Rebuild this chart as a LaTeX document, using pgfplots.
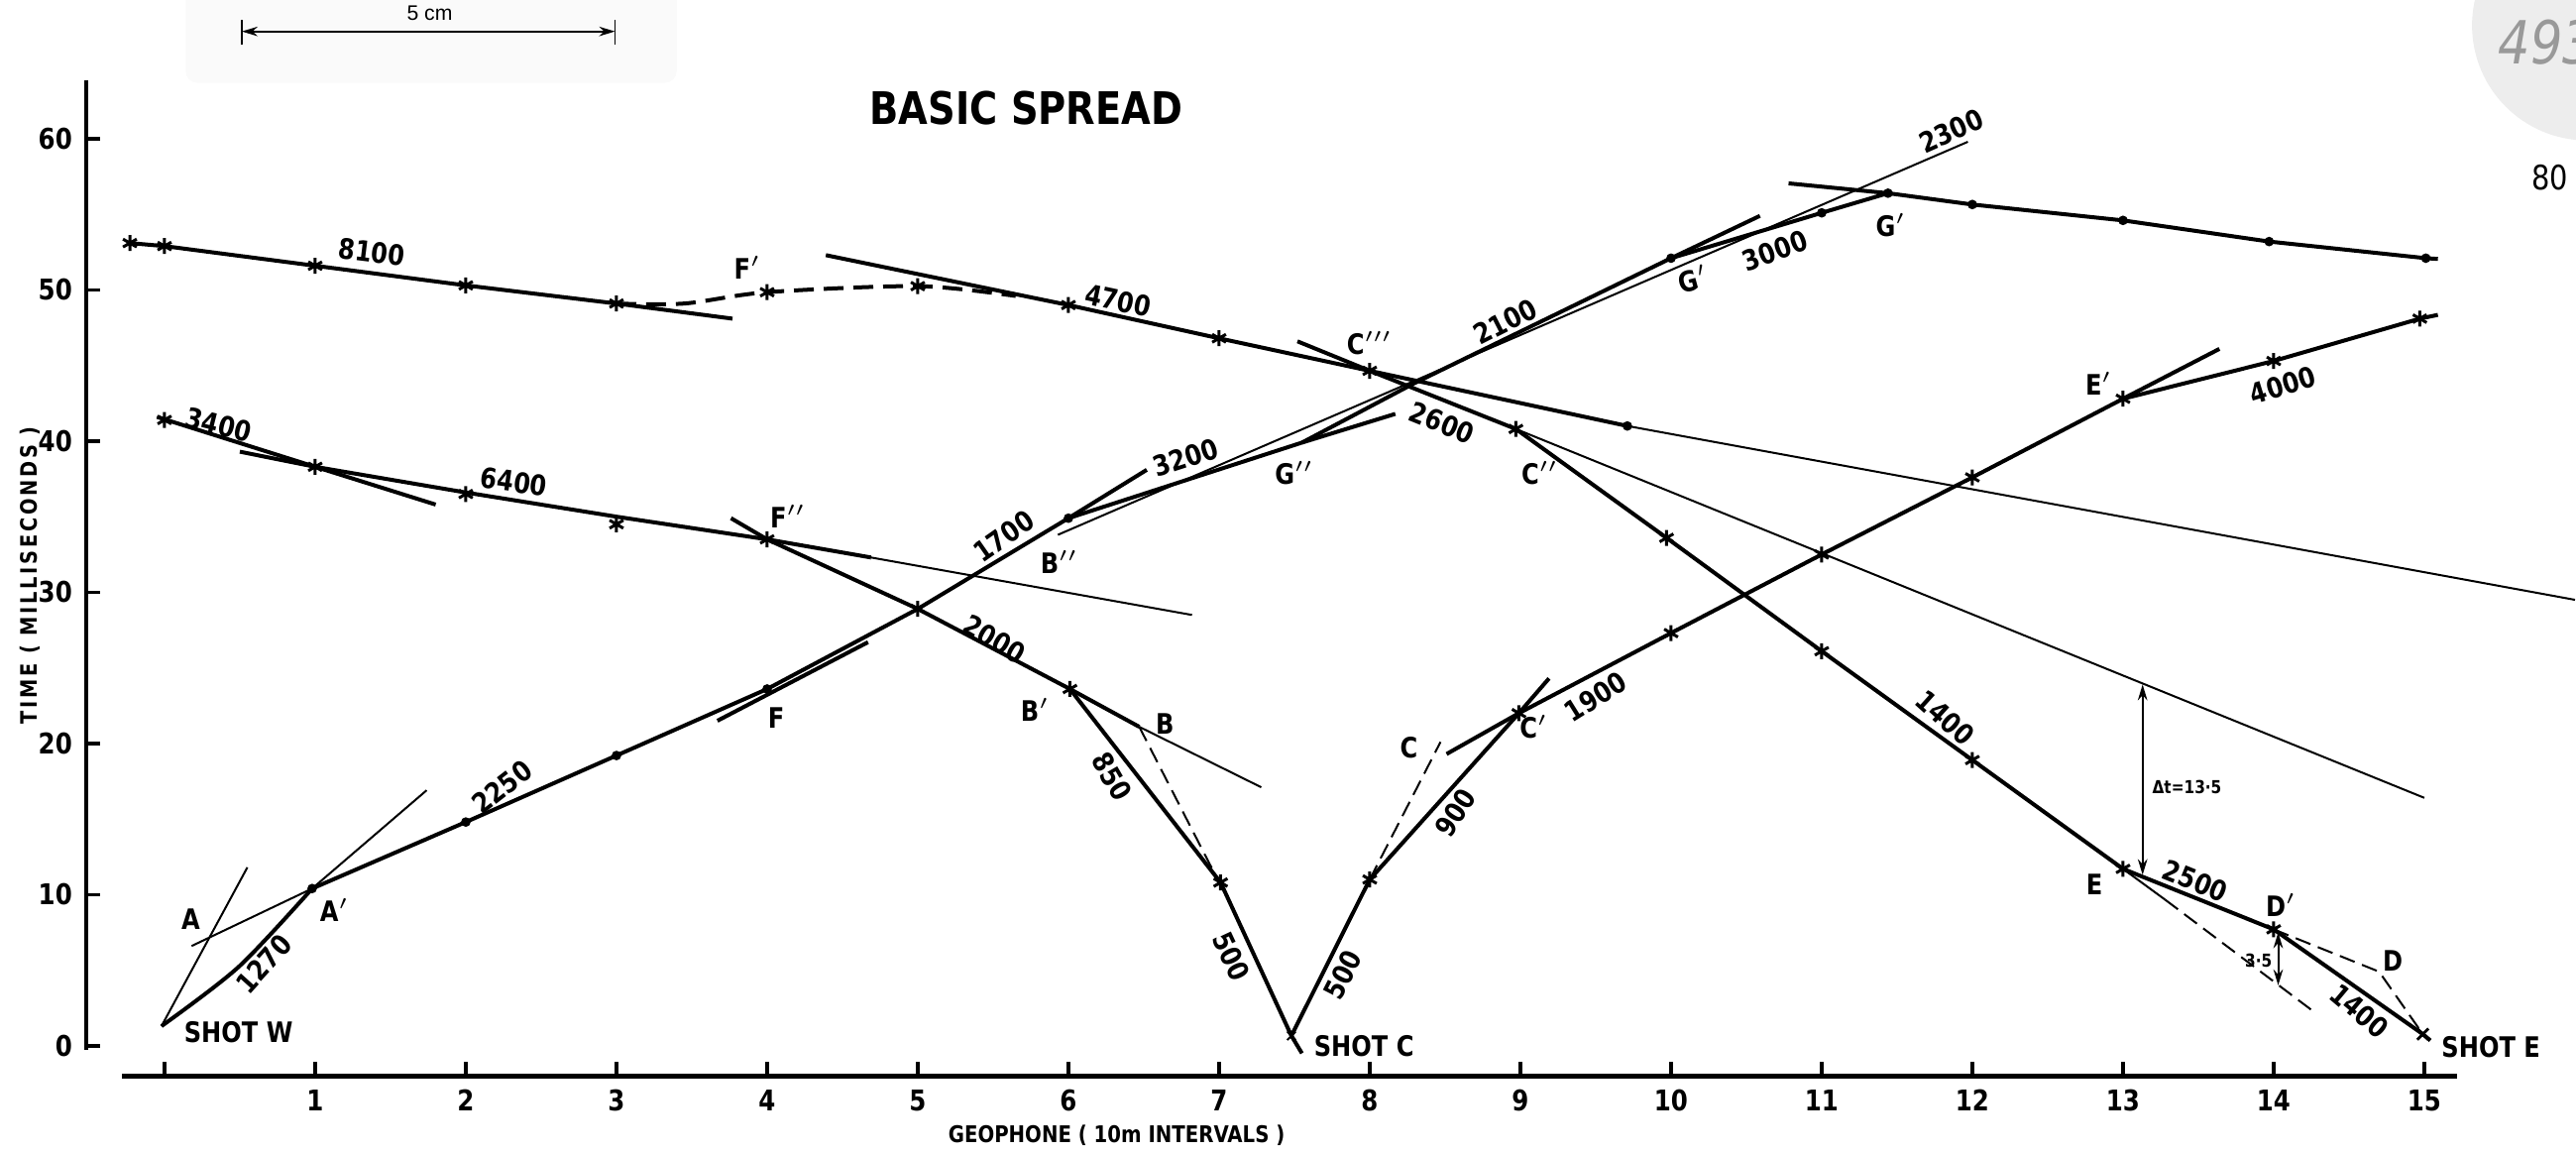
\documentclass[border=0pt]{standalone}
\usepackage{fontspec}
\setmainfont{DejaVu Sans}[FakeStretch=0.85]
\newfontfamily\arialf{Liberation Sans}
\usepackage{pgfplots}
\pgfplotsset{compat=1.18}
\usetikzlibrary{arrows.meta}

\begin{document}
\begin{tikzpicture}[
  lbl/.style={font=\bfseries\fontsize{7.1}{8}\selectfont, inner sep=0pt},
  tiny/.style={font=\bfseries\fontsize{4.5}{5}\selectfont, inner sep=0pt},
  thk/.style={black, line width=1pt, no markers},
  thn/.style={black, line width=0.5pt, no markers},
  ast/.style={only marks, mark=asterisk, mark size=2pt, mark options={line width=0.75pt, black}},
  dot/.style={only marks, mark=*, mark size=1pt, black},
  dbl/.style={{Stealth[length=4pt,width=2.4pt]}-{Stealth[length=4pt,width=2.4pt]}},
]
\begin{axis}[
  scale only axis, width=598.1pt, height=251.2pt,
  xmin=-0.52, xmax=15.22, ymin=-2, ymax=63.9,
  axis lines=left, axis line style={draw=none},
  xtick={0,...,15},
  xticklabels={,1,2,3,4,5,6,7,8,9,10,11,12,13,14,15},
  ytick={0,10,20,30,40,50,60},
  tick align=inside, major tick length=3.5pt,
  every tick/.style={black, line width=0.9pt},
  tick label style={font=\bfseries\fontsize{7.2}{8}\selectfont},
  /pgf/number format/assume math mode=true,
  clip=false,
]
% scan decorations
\fill[black!2, rounded corners=3pt] (axis cs:0.14,63.7) rectangle (axis cs:3.40,70);
\fill[black!7] (axis cs:16.08,67.5) circle[radius=29pt];

% axis lines
\addplot[black, line width=1.3pt] coordinates {(-0.28,-2) (15.22,-2)};
\addplot[black, line width=1.05pt] coordinates {(-0.52,-0.3) (-0.52,63.9)};

% scale bar
\addplot[black, line width=0.4pt, dbl] coordinates {(0.513,67.1) (2.99,67.1)};
\addplot[black, line width=0.4pt] coordinates {(0.513,66.2) (0.513,67.9)};
\addplot[black, line width=0.4pt] coordinates {(2.99,66.2) (2.99,67.9)};
\node[font=\arialf\fontsize{5.3}{6}\selectfont] at (axis cs:1.76,68.3) {5 cm};

% 8100
\addplot[thk] coordinates {(-0.23,53.1) (0,52.9) (1,51.6) (2,50.3) (3,49.1) (3.77,48.1)};
\addplot[ast] coordinates {(-0.23,53.1) (0,52.9) (1,51.6) (2,50.3) (3,49.1)};
% F' dashed
\addplot[thk, dash pattern=on 5pt off 2.5pt, smooth] coordinates {(3,49.1) (3.45,49.1) (4,49.85) (5,50.25) (5.65,49.6)};
\addplot[ast] coordinates {(4,49.85) (5,50.25)};
% 4700
\addplot[thk] coordinates {(4.39,52.3) (6,49.0) (7,46.8) (8,44.65) (9.71,41.0)};
\addplot[thn] coordinates {(9.71,41.0) (16.0,29.5)};
\addplot[ast] coordinates {(6,49.0) (7,46.8) (8,44.65)};
\addplot[dot] coordinates {(9.71,41.0)};
% 2600
\addplot[thk] coordinates {(7.52,46.6) (8,44.65) (8.97,40.8)};
\addplot[thn] coordinates {(8.97,40.8) (15.0,16.4)};
% 1400 upper
\addplot[thk] coordinates {(8.97,40.8) (9.97,33.6) (11,26.1) (12,18.9) (13,11.7)};
\addplot[ast] coordinates {(8.97,40.8) (9.97,33.6) (11,26.1) (12,18.9) (13,11.7)};
\addplot[thn] coordinates {(13,11.7) (13.28,9.66)};
\addplot[thn, dash pattern=on 4pt off 2pt] coordinates {(13.28,9.66) (14.26,2.3)};
% 2500 / 1400 lower
\addplot[thk] coordinates {(13,11.7) (14,7.7) (14.99,0.77) (15.04,0.35)};
\addplot[ast] coordinates {(14,7.7)};
\addplot[only marks, mark=x, mark size=2pt, mark options={line width=0.7pt, black}] coordinates {(14.99,0.77)};
\addplot[thn, dash pattern=on 4pt off 2pt] coordinates {(14,7.7) (14.7,4.9) (14.99,0.77)};
% arrows
\addplot[thn, dbl] coordinates {(13.13,11.3) (13.13,23.9)};
\addplot[thn, dbl] coordinates {(14.03,7.5) (14.03,4.0)};
% 1900 / 4000
\addplot[thk] coordinates {(8.51,19.3) (8.99,22.0) (10,27.3) (11,32.5) (12,37.6) (13,42.8) (13.64,46.1)};
\addplot[thk] coordinates {(13,42.8) (14,45.3) (14.97,48.1) (15.09,48.35)};
\addplot[ast] coordinates {(8,11.0) (8.99,22.0) (10,27.3) (11,32.5) (12,37.6) (13,42.8) (14,45.3) (14.97,48.1)};
% 500 / 900 right of shot C
\addplot[thk] coordinates {(7.48,0.66) (8,11.0) (8.99,22.0) (9.19,24.3)};
\addplot[thn, dash pattern=on 4pt off 2pt] coordinates {(8,11.0) (8.47,20.1)};
% 850 / 500 left of shot C
\addplot[thk] coordinates {(6.01,23.6) (7.01,10.8) (7.48,0.66) (7.55,-0.5)};
\addplot[thn, dash pattern=on 4pt off 2pt] coordinates {(6.47,21.1) (6.98,11.2)};
\addplot[ast] coordinates {(7.01,10.8)};
\addplot[only marks, mark=x, mark size=1.5pt, mark options={line width=0.5pt, black}] coordinates {(7.48,0.66)};
% 2000
\addplot[thk] coordinates {(3.76,34.9) (4,33.5) (5,28.9) (6.01,23.6) (6.47,21.1)};
\addplot[thn] coordinates {(6.47,21.1) (7.28,17.1)};
\addplot[ast] coordinates {(5,28.9) (6.01,23.6)};
% 3400 / 6400
\addplot[thk] coordinates {(-0.05,41.6) (1,38.3) (1.8,35.8)};
\addplot[thk] coordinates {(0.5,39.3) (1,38.3) (2,36.6) (3,35.0) (4,33.5) (4.69,32.3)};
\addplot[thn] coordinates {(4.69,32.3) (6.82,28.5)};
\addplot[ast] coordinates {(0,41.4) (1,38.3) (2,36.5) (3,34.5) (4,33.5)};
% 1270 / 2250 / 1700
\addplot[thk, smooth] coordinates {(-0.02,1.3) (0.49,5.2) (0.98,10.4)};
\addplot[thn] coordinates {(0.98,10.4) (1.74,16.9)};
\addplot[thn] coordinates {(-0.02,1.3) (0.55,11.8)};
\addplot[thn] coordinates {(0.18,6.6) (0.98,10.4)};
\addplot[thk] coordinates {(0.98,10.4) (2,14.8) (3,19.2) (4,23.6)};
\addplot[thk] coordinates {(3.67,21.5) (4.67,26.7)};
\addplot[thk] coordinates {(4,23.6) (5,28.9) (6,34.9) (6.52,38.1)};
\addplot[dot] coordinates {(0.98,10.4) (2,14.8) (3,19.2) (4,23.6) (6,34.9)};
% 3200 / 2100 / 3000 / 2300
\addplot[thk] coordinates {(6,34.9) (7.55,39.9) (8.17,41.8)};
\addplot[thk] coordinates {(7.55,39.9) (8.29,43.8) (10,52.1) (10.59,54.9)};
\addplot[thk] coordinates {(10,52.1) (11,55.1) (11.44,56.4)};
\addplot[thn] coordinates {(5.93,33.8) (11.97,59.8)};
\addplot[dot] coordinates {(10,52.1) (11,55.1)};
% top right
\addplot[thk] coordinates {(10.78,57.05) (11.44,56.4) (12,55.65) (13,54.6) (13.97,53.2) (15.01,52.1) (15.09,52.05)};
\addplot[dot] coordinates {(11.44,56.4) (12,55.65) (13,54.6) (13.97,53.2) (15.01,52.1)};

% labels
\node[lbl, rotate=-7] at (axis cs:1.375,52.5) {8100};
\node[lbl] at (axis cs:3.87,51.5) {F$'$};
\node[lbl, rotate=-12] at (axis cs:6.33,49.3) {4700};
\node[lbl] at (axis cs:8.0,46.45) {C$'''$};
\node[lbl, rotate=27] at (axis cs:8.9,47.9) {2100};
\node[lbl, rotate=24] at (axis cs:11.86,60.5) {2300};
\node[lbl, rotate=20] at (axis cs:10.69,52.6) {3000};
\node[lbl, rotate=15] at (axis cs:10.15,50.7) {G$'$};
\node[lbl] at (axis cs:11.46,54.3) {G$'$};
\node[lbl] at (axis cs:12.84,43.8) {E$'$};
\node[lbl, rotate=17] at (axis cs:14.06,43.7) {4000};
\node[lbl, rotate=-22] at (axis cs:8.48,41.2) {2600};
\node[lbl] at (axis cs:9.13,37.9) {C$''$};
\node[lbl] at (axis cs:7.5,37.9) {G$''$};
\node[lbl, rotate=18] at (axis cs:6.78,38.9) {3200};
\node[lbl] at (axis cs:5.94,32.0) {B$''$};
\node[lbl, rotate=35] at (axis cs:5.57,33.7) {1700};
\node[lbl, rotate=-14] at (axis cs:0.36,41.1) {3400};
\node[lbl, rotate=-8] at (axis cs:2.32,37.3) {6400};
\node[lbl] at (axis cs:4.14,35.0) {F$''$};
\node[lbl, rotate=-30] at (axis cs:5.51,26.9) {2000};
\node[lbl] at (axis cs:5.78,22.2) {B$'$};
\node[lbl] at (axis cs:6.64,21.3) {B};
\node[lbl, rotate=-60] at (axis cs:6.29,17.8) {850};
\node[lbl, rotate=-65] at (axis cs:7.08,5.9) {500};
\node[lbl, rotate=63] at (axis cs:7.82,4.7) {500};
\node[lbl, rotate=57] at (axis cs:8.57,15.4) {900};
\node[lbl] at (axis cs:8.26,19.7) {C};
\node[lbl] at (axis cs:9.09,21.1) {C$'$};
\node[lbl, rotate=32] at (axis cs:9.5,23.1) {1900};
\node[lbl, rotate=-42] at (axis cs:11.82,21.7) {1400};
\node[lbl] at (axis cs:12.81,10.7) {E};
\node[lbl, rotate=-22] at (axis cs:13.48,10.9) {2500};
\node[lbl] at (axis cs:14.05,9.3) {D$'$};
\node[lbl] at (axis cs:14.79,5.6) {D};
\node[lbl, rotate=-40] at (axis cs:14.57,2.3) {1400};
\node[tiny] at (axis cs:13.9,5.6) {3·5};
\node[tiny, anchor=west] at (axis cs:13.19,17.1) {Δt=13·5};
\node[lbl] at (axis cs:0.175,8.4) {A};
\node[lbl] at (axis cs:1.13,9.0) {A$'$};
\node[lbl, rotate=48] at (axis cs:0.66,5.4) {1270};
\node[lbl, rotate=38] at (axis cs:2.24,17.1) {2250};
\node[lbl] at (axis cs:4.06,21.7) {F};
\node[lbl, anchor=west] at (axis cs:0.125,0.9) {SHOT W};
\node[lbl, anchor=west] at (axis cs:7.625,-0.05) {SHOT C};
\node[lbl, anchor=west] at (axis cs:15.11,-0.1) {SHOT E};

% titles
\node[font=\bfseries\fontsize{11.3}{12}\selectfont] at (axis cs:5.72,62.0) {BASIC SPREAD};
\node[font=\bfseries\fontsize{5.8}{6}\selectfont] at (axis cs:6.32,-5.9) {GEOPHONE ( 10m INTERVALS )};
\node[rotate=90, font=\bfseries\fontsize{5.7}{6}\selectfont\addfontfeature{LetterSpace=12}] at (axis cs:-0.895,31.1) {TIME ( MILLISECONDS )};

% margin notes
\node[anchor=west, text=black!40, font=\itshape\fontsize{15}{16}\selectfont] at (axis cs:15.40,66.4) {4939};
\node[anchor=west, font=\fontsize{8.5}{9}\selectfont] at (axis cs:15.62,57.4) {80};

\coordinate (bl) at (axis cs:-1.092,-7.15);
\coordinate (tr) at (axis cs:16.007,69.18);
\end{axis}
\pgfresetboundingbox
\path (bl) rectangle (tr);
\end{tikzpicture}
\end{document}
